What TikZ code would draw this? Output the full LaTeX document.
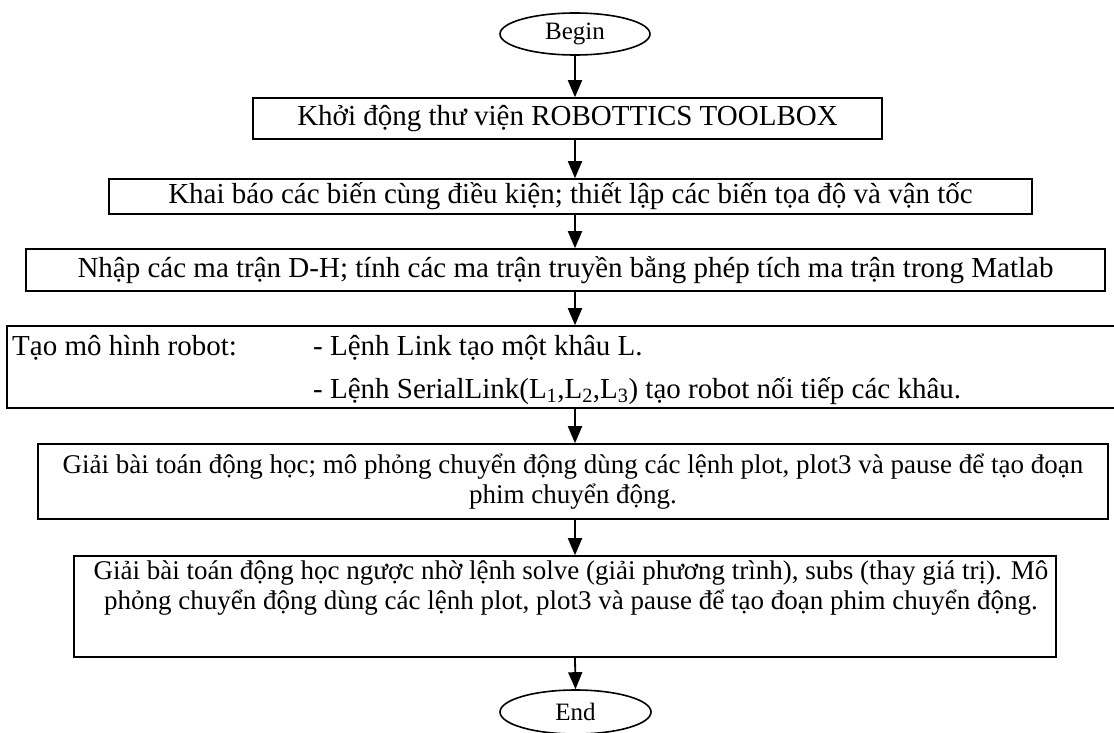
\documentclass[tikz,border=0pt]{standalone}
\usepackage{fontspec}
\setmainfont{Liberation Serif}
\usetikzlibrary{arrows.meta,shapes.geometric}
\begin{document}
\begin{tikzpicture}[x=1pt,y=-1pt,
  box/.style={draw,line width=1.6pt,rectangle,inner sep=0pt,anchor=center},
  term/.style={draw,line width=1.6pt,ellipse,inner sep=0pt,font=\fontsize{25}{30}\selectfont},
  arr/.style={line width=1.8pt,-{Triangle[length=17pt,width=14pt]}},
  big/.style={font=\fontsize{29}{34}\selectfont},
  small/.style={font=\fontsize{27}{30}\selectfont},
  txt/.style={inner sep=0pt}]
\useasboundingbox (0,0) rectangle (1114,733);
\node[term,minimum width=150pt,minimum height=42pt] (begin) at (575,34) {Begin};
\node[box,big,minimum width=629pt,minimum height=41pt] (b1) at (567.5,118.5) {Khởi động thư viện ROBOTTICS TOOLBOX};
\node[box,big,minimum width=923pt,minimum height=35pt] (b2) at (570.5,196.5) {Khai báo các biến cùng điều kiện; thiết lập các biến tọa độ và vận tốc};
\node[box,big,minimum width=1079pt,minimum height=42pt] (b3) at (565.5,270) {Nhập các ma trận D-H; tính các ma trận truyền bằng phép tích ma trận trong Matlab};
\node[box,minimum width=1113pt,minimum height=82pt] (b4) at (563.5,367) {};
\node[txt,big,anchor=base west] (t4a) at (12,355) {Tạo mô hình robot:};
\node[txt,big,anchor=base west] (t4b) at (313,355) {- Lệnh Link tạo một khâu L.};
\node[txt,big,anchor=base west] (t4c) at (313,398) {- Lệnh SerialLink(L\textsubscript{1},L\textsubscript{2},L\textsubscript{3}) tạo robot nối tiếp các khâu.};
\node[box,small,align=center,minimum width=1070pt,minimum height=75pt] (b5) at (573,481.5) {Giải bài toán động học; mô phỏng chuyển động dùng các lệnh plot, plot3 và pause để tạo đoạn\\phim chuyển động.};
\node[box,minimum width=982pt,minimum height=101pt] (b6) at (565,606.5) {};
\node[txt,small,align=center] (t6) at (571,588) {Giải bài toán động học ngược nhờ lệnh solve (giải phương trình), subs (thay giá trị). Mô\\phỏng chuyển động dùng các lệnh plot, plot3 và pause để tạo đoạn phim chuyển động.};
\node[term,minimum width=151pt,minimum height=44pt] (end) at (575.5,712) {End};
\draw[arr] (begin.south) -- (b1.north -| begin.south);
\draw[arr] (b1.south -| begin.south) -- (b2.north -| begin.south);
\draw[arr] (b2.south -| begin.south) -- (b3.north -| begin.south);
\draw[arr] (b3.south -| begin.south) -- (b4.north -| begin.south);
\draw[arr] (b4.south -| begin.south) -- (b5.north -| begin.south);
\draw[arr] (b5.south -| begin.south) -- (b6.north -| begin.south);
\draw[arr] (b6.south -| begin.south) -- (end.north);
\end{tikzpicture}
\end{document}
